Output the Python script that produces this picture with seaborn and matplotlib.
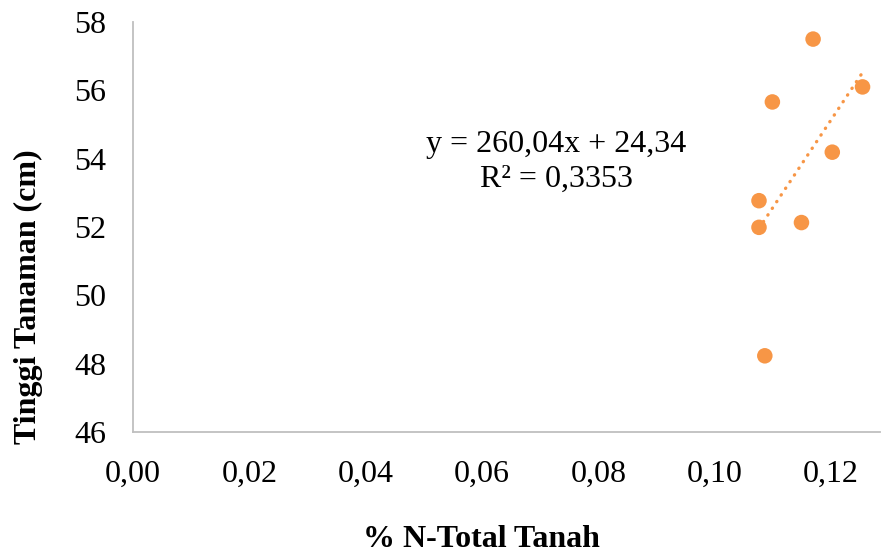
import numpy as np
import pandas as pd
import matplotlib
matplotlib.use("Agg")
import matplotlib.pyplot as plt
import seaborn as sns

# Data
n_total = [0.1169, 0.1254, 0.1099, 0.1202, 0.1076, 0.1076, 0.1149, 0.1086]
tinggi = [57.50, 56.10, 55.66, 54.19, 52.77, 51.99, 52.13, 48.23]
x_ticks = [0.00, 0.02, 0.04, 0.06, 0.08, 0.10, 0.12]
y_ticks = [46, 48, 50, 52, 54, 56, 58]
eq_text = "y = 260,04x + 24,34\nR\u00b2 = 0,3353"
x_label = "% N-Total Tanah"
y_label = "Tinggi Tanaman (cm)"

df = pd.DataFrame({"x": n_total, "y": tinggi})

sns.set_style("white")
plt.rcParams["font.family"] = ["Liberation Serif", "DejaVu Serif"]

fig = plt.figure(figsize=(8.9, 5.56), dpi=100)
ax = fig.add_axes([133 / 890, 1 - 432 / 556, (880 - 133) / 890, (432 - 22) / 556])

orange = "#F79646"
sns.scatterplot(data=df, x="x", y="y", ax=ax, color=orange, s=125,
                edgecolor="none", zorder=3)

# linear trendline from the data
coef = np.polyfit(df["x"], df["y"], 1)
xs = np.array([df["x"].min(), df["x"].max()])
ax.plot(xs, np.polyval(coef, xs), color=orange, linewidth=2.4,
        linestyle=(0, (0.1, 2.3)), dash_capstyle="round", zorder=2)

ax.text(0.0728, 53.9, eq_text, ha="center", va="center", fontsize=23,
        linespacing=1.25, color="black")

ax.set_xlim(0, 0.1284)
ax.set_ylim(46, 58)
ax.set_xticks(x_ticks)
ax.set_yticks(y_ticks)
ax.set_xticklabels([f"{v:.2f}".replace(".", ",") for v in x_ticks], fontsize=23)
ax.set_yticklabels([str(v) for v in y_ticks], fontsize=23)
ax.tick_params(axis="both", length=0, labelcolor="black")
ax.tick_params(axis="y", pad=19)
ax.tick_params(axis="x", pad=20)

ax.set_xlabel(x_label, fontsize=23, fontweight="bold", color="black", va="center")
ax.set_ylabel(y_label, fontsize=23, fontweight="bold", color="black", va="center")
ax.xaxis.set_label_coords(0.466, -0.262)
ax.yaxis.set_label_coords(-0.1406, 0.329)

for side in ["top", "right"]:
    ax.spines[side].set_visible(False)
for side in ["left", "bottom"]:
    ax.spines[side].set_color("#BFBFBF")
    ax.spines[side].set_linewidth(1.3)

fig.savefig("out.png", dpi=100, facecolor="white")
